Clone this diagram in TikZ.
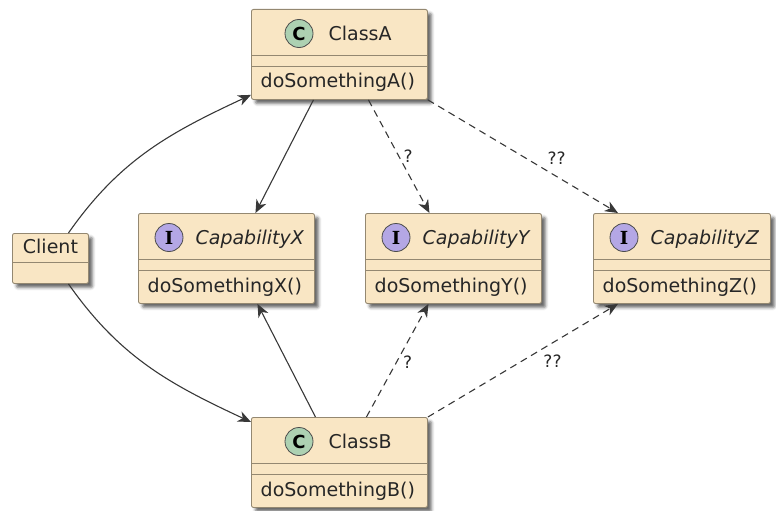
\documentclass[tikz,border=0pt]{standalone}
\usepackage{fontspec}
\setmainfont{DejaVu Sans}
\newfontfamily\spotserif{DejaVu Serif}
\usepackage{tikz}
\usetikzlibrary{arrows.meta,positioning,shadows.blur}

\definecolor{boxfill}{HTML}{F9E6C4}
\definecolor{boxline}{HTML}{948871}
\definecolor{spotC}{HTML}{ADD1B2}
\definecolor{spotI}{HTML}{B4A7E5}
\definecolor{edgec}{HTML}{383838}

\tikzset{
  box/.style={draw=boxline, fill=boxfill, line width=0.9pt, rounded corners=2pt,
    anchor=north west, inner sep=0pt,
    blur shadow={shadow xshift=4pt, shadow yshift=-4pt, shadow blur radius=3pt, shadow opacity=60}},
  sep/.style={draw=boxline, line width=0.9pt},
  spot/.style={circle, draw=black!70, line width=0.8pt, minimum size=28pt, inner sep=0pt},
  cname/.style={inner sep=0pt, anchor=base west, text=black!85, font=\fontsize{19pt}{22pt}\selectfont},
  iname/.style={cname, font=\fontsize{19pt}{22pt}\selectfont\itshape},
  member/.style={inner sep=0pt, anchor=base west, text=black!85, font=\fontsize{19pt}{22pt}\selectfont},
  uses/.style={draw=edgec, line width=1.1pt, -{Stealth[length=13pt,width=11pt,inset=4pt]}},
  maybe/.style={uses, dash pattern=on 7pt off 5pt},
  lbl/.style={inner sep=1pt, text=black!85, font=\fontsize{17pt}{20pt}\selectfont}
}

\begin{document}
\begin{tikzpicture}[x=1pt, y=-1pt]
   \useasboundingbox (0,0) rectangle (776,511);

   % boxes
   \node[box, minimum width=76pt,  minimum height=50pt] (client) at (12,233)  {};
   \node[box, minimum width=176pt, minimum height=90pt] (classA) at (251,9)   {};
   \node[box, minimum width=176pt, minimum height=90pt] (classB) at (251,417) {};
   \node[box, minimum width=176pt, minimum height=90pt] (capX)   at (138,213) {};
   \node[box, minimum width=176pt, minimum height=90pt] (capY)   at (365,213) {};
   \node[box, minimum width=177pt, minimum height=90pt] (capZ)   at (593,213) {};

   % compartments
   \draw[sep] ([yshift=-29pt]client.north west) -- ([yshift=-29pt]client.north east);
   \foreach \b in {classA,classB,capX,capY,capZ} {
     \draw[sep] ([yshift=-46pt]\b.north west) -- ([yshift=-46pt]\b.north east);
     \draw[sep] ([yshift=-57pt]\b.north west) -- ([yshift=-57pt]\b.north east);
   }

   % headers
   \node[cname, anchor=base] (nameClient) at ([yshift=-20pt]client.north) {Client};

   \node[spot, fill=spotC] (spotA) at ([xshift=48pt, yshift=-24.5pt]classA.north west) {\fontsize{18pt}{18pt}\selectfont\bfseries C};
   \node[cname] (nameA) at ([xshift=15pt, yshift=-7pt]spotA.east) {ClassA};
   \node[spot, fill=spotC] (spotB) at ([xshift=48pt, yshift=-24.5pt]classB.north west) {\fontsize{18pt}{18pt}\selectfont\bfseries C};
   \node[cname] (nameB) at ([xshift=15pt, yshift=-7pt]spotB.east) {ClassB};

   \node[spot, fill=spotI] (spotX) at ([xshift=31pt, yshift=-24.5pt]capX.north west) {\fontsize{18pt}{18pt}\selectfont\spotserif\bfseries I};
   \node[iname] (nameX) at ([xshift=12pt, yshift=-7pt]spotX.east) {CapabilityX};
   \node[spot, fill=spotI] (spotY) at ([xshift=31pt, yshift=-24.5pt]capY.north west) {\fontsize{18pt}{18pt}\selectfont\spotserif\bfseries I};
   \node[iname] (nameY) at ([xshift=12pt, yshift=-7pt]spotY.east) {CapabilityY};
   \node[spot, fill=spotI] (spotZ) at ([xshift=31pt, yshift=-24.5pt]capZ.north west) {\fontsize{18pt}{18pt}\selectfont\spotserif\bfseries I};
   \node[iname] (nameZ) at ([xshift=12pt, yshift=-7pt]spotZ.east) {CapabilityZ};

   % methods
   \node[member] (methA) at ([xshift=9.5pt, yshift=-79pt]classA.north west) {doSomethingA()};
   \node[member] (methB) at ([xshift=9.5pt, yshift=-79pt]classB.north west) {doSomethingB()};
   \node[member] (methX) at ([xshift=9.5pt, yshift=-79pt]capX.north west)   {doSomethingX()};
   \node[member] (methY) at ([xshift=9.5pt, yshift=-79pt]capY.north west)   {doSomethingY()};
   \node[member] (methZ) at ([xshift=9.5pt, yshift=-79pt]capZ.north west)   {doSomethingZ()};

   % links
   \draw[uses] ([xshift=18pt]client.north) to[out=55, in=205] ([yshift=5pt]classA.south west);
   \draw[uses] ([xshift=18pt]client.south) to[out=-55, in=155] ([yshift=-5pt]classB.north west);

   \draw[uses] ([xshift=-26pt]classA.south) -- ([xshift=29pt]capX.north);
   \draw[maybe] ([xshift=29pt]classA.south)
      -- node[lbl, anchor=west, pos=0.5, xshift=3pt] {?} ([xshift=-24pt]capY.north);
   \draw[maybe] (classA.south east)
      -- node[lbl, anchor=south west, pos=0.58, xshift=8pt, yshift=-1pt] {??} ([xshift=-64pt]capZ.north);

   \draw[uses] ([xshift=-24pt]classB.north) -- ([xshift=31pt]capX.south);
   \draw[maybe] ([xshift=27pt]classB.north)
      -- node[lbl, anchor=west, pos=0.5, xshift=4pt, yshift=-2pt] {?} ([xshift=-25pt]capY.south);
   \draw[maybe] (classB.north east)
      -- node[lbl, anchor=north west, pos=0.6, yshift=-4pt] {??} ([xshift=-64pt]capZ.south);
\end{tikzpicture}
\end{document}
